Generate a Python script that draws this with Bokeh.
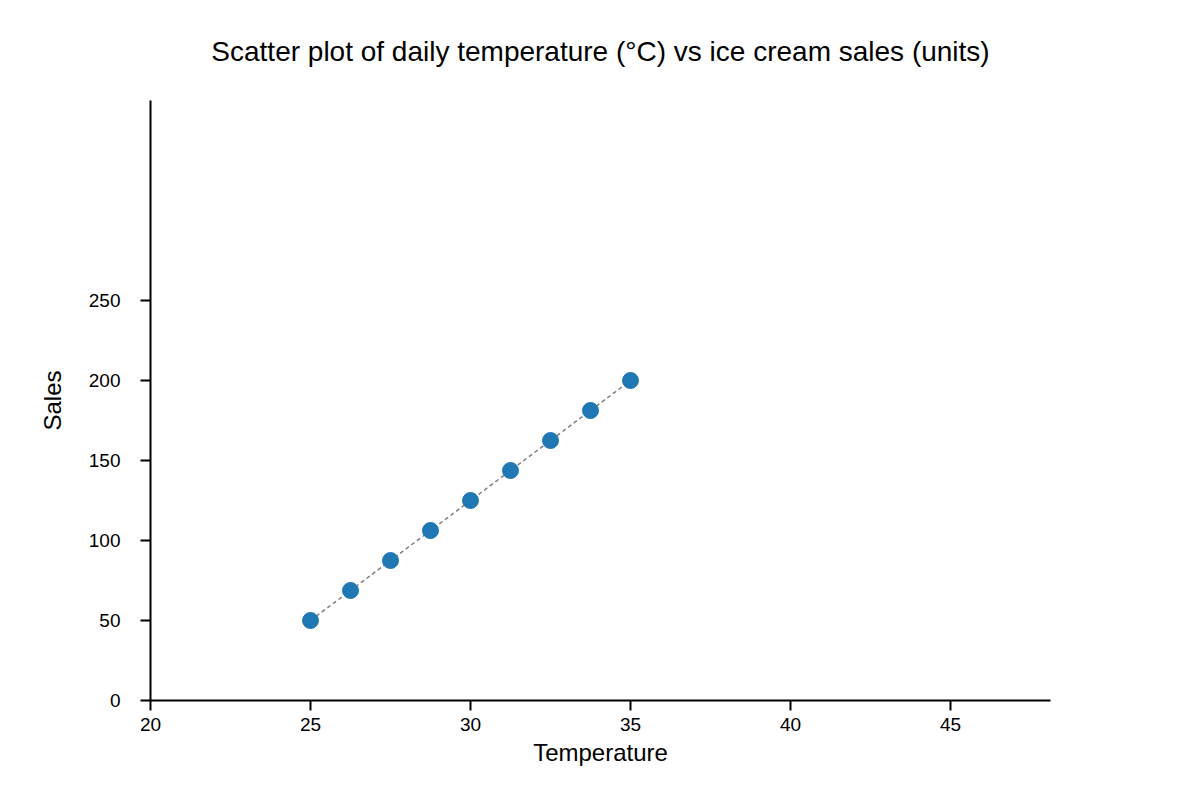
from bokeh.plotting import figure
from bokeh.models import FixedTicker, Range1d
from bokeh.embed import file_html
from bokeh.resources import INLINE

temperature = [25, 26.25, 27.5, 28.75, 30, 31.25, 32.5, 33.75, 35]
sales = [50, 68.75, 87.5, 106.25, 125, 143.75, 162.5, 181.25, 200]
x_ticks = [20, 25, 30, 35, 40, 45]
y_ticks = [0, 50, 100, 150, 200, 250]

FONT = "Liberation Sans"

p = figure(width=1184, height=784, output_backend="svg", toolbar_location=None,
           title="Scatter plot of daily temperature (°C) vs ice cream sales (units)",
           x_range=Range1d(20, 48.125), y_range=Range1d(0, 375),
           x_axis_label="Temperature", y_axis_label="Sales",
           min_border_left=150, min_border_right=134,
           min_border_top=100, min_border_bottom=84)

p.title.align = "center"
p.title.text_font = FONT
p.title.text_font_size = "28px"
p.title.text_font_style = "normal"
p.title.text_color = "black"
p.title.standoff = 67

p.outline_line_color = None
p.xgrid.visible = False
p.ygrid.visible = False

for ax in (p.xaxis[0], p.yaxis[0]):
    ax.axis_line_color = "black"
    ax.axis_line_width = 2
    ax.major_tick_line_color = "black"
    ax.major_tick_line_width = 2
    ax.minor_tick_line_color = None
    ax.major_tick_in = 0
    ax.major_tick_out = 10
    ax.major_label_text_font = FONT
    ax.major_label_text_font_size = "19px"
    ax.major_label_text_color = "black"
    ax.axis_label_text_font = FONT
    ax.axis_label_text_font_size = "24px"
    ax.axis_label_text_font_style = "normal"
    ax.axis_label_text_color = "black"

p.xaxis.ticker = FixedTicker(ticks=x_ticks)
p.yaxis.ticker = FixedTicker(ticks=y_ticks)
p.xaxis.major_label_standoff = 7
p.yaxis.major_label_standoff = 20
p.xaxis.axis_label_standoff = 5
p.yaxis.axis_label_standoff = 20

p.line(temperature, sales, line_color="gray", line_width=1.5, line_dash="4 3")
p.scatter(temperature, sales, size=16, fill_color="#1f77b4", line_color="#1f77b4")

open("out.html", "w").write(file_html(p, INLINE))
